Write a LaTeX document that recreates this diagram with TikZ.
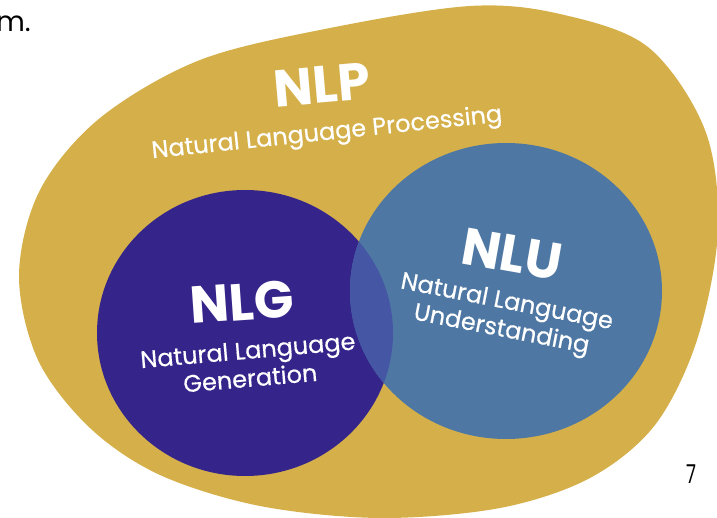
\documentclass[tikz,border=0pt]{standalone}
\usepackage{fontspec}
\setmainfont{Poppins}
\newfontfamily\subfont[FakeBold=0.4]{Poppins}
\usetikzlibrary{positioning}
\definecolor{NLPgold}{HTML}{D5B04A}
\definecolor{NLGpurple}{HTML}{35258A}
\definecolor{NLUblue}{HTML}{4E78A3}
\definecolor{MixBlue}{HTML}{4456A4}

\begin{document}
\begin{tikzpicture}[x=1pt,y=-1pt]
  \tikzset{
    acro/.style={text=white,font=\bfseries\fontsize{52}{52}\selectfont,inner sep=0pt},
    full/.style={text=white,font=\subfont\fontsize{24}{28}\selectfont,align=center,inner sep=0pt},
    slide/.style={text=black,inner sep=0pt}
  }
  \useasboundingbox (0,0) rectangle (717,518);
  \clip (0,0) rectangle (717,518);

  % outer NLP blob
  \fill[NLPgold] plot[smooth cycle,tension=.55] coordinates {
    (200,60) (100,118) (40,190) (19,275) (38,360) (90,428) (160,475)
    (260,506) (380,518) (500,508) (590,478) (655,425) (697,340)
    (718,230) (705,130) (648,47) (560,14) (470,6) (330,28)};

  % the two inner circles and their overlap
  \fill[NLGpurple] (245,333) ellipse [x radius=148,y radius=143];
  \fill[NLUblue] (506,291) ellipse [x radius=156,y radius=148];
  \begin{scope}
    \clip (245,333) ellipse [x radius=148,y radius=143];
    \fill[MixBlue] (506,291) ellipse [x radius=156,y radius=148];
  \end{scope}

  % labels
  \node[acro,rotate=5] (nlp) at (322,85) {NLP};
  \node[full,rotate=6] (nlpfull) at (327,134) {Natural Language Processing};
  \node[acro,rotate=4] (nlg) at (242,302) {NLG};
  \node[full,rotate=5] (nlgfull) at (249,364) {Natural Language\\Generation};
  \node[acro,rotate=-10] (nlu) at (512,254) {NLU};
  \node[full,rotate=-11] (nlufull) at (504,317) {Natural Language\\Understanding};

  % slide leftovers
  \node[slide,font=\fontsize{28}{28}\selectfont,anchor=east] (slidetxt) at (31,24) {m.};
  \node[slide,font=\fontsize{26}{26}\selectfont,xscale=.7] (pagenum) at (691,474) {7};
\end{tikzpicture}
\end{document}
